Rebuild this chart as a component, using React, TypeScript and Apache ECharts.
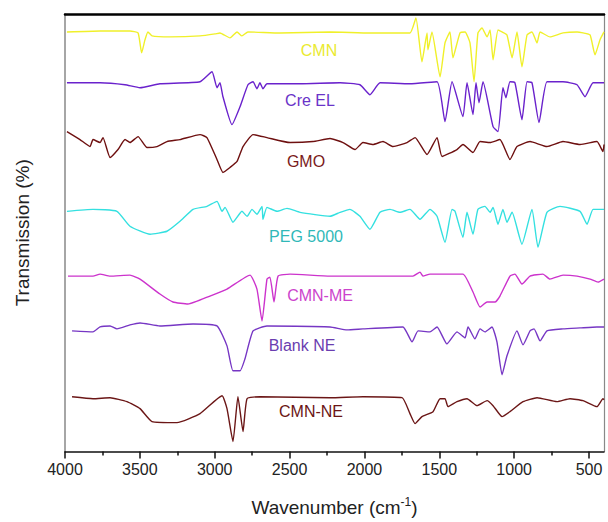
import React, { useEffect, useRef } from "react";
import * as echarts from "echarts";

// Wavenumber (cm-1), transmission offset (arb. units)
const cmn: [number, number][] = [
  [3987, 421], [3766, 422], [3566, 422], [3512, 420], [3488, 400], [3466, 413], [3446, 421], [3419, 417],
  [3299, 416], [3098, 417], [2998, 419], [2965, 420], [2898, 415], [2851, 421], [2818, 417], [2778, 421],
  [2564, 420], [2230, 421], [1963, 420], [1696, 420], [1656, 435], [1616, 391], [1582, 420], [1576, 403],
  [1549, 421], [1495, 376], [1462, 410], [1429, 421], [1409, 395], [1362, 420], [1328, 421], [1295, 410],
  [1268, 371], [1242, 420], [1215, 425], [1181, 416], [1161, 423], [1141, 393], [1108, 423], [1081, 421],
  [1048, 418], [1014, 395], [981, 421], [948, 386], [914, 418], [881, 421], [847, 410], [827, 421],
  [761, 416], [674, 420], [580, 421], [540, 420], [493, 418], [460, 398], [427, 413], [400, 421],
];

const creEL: [number, number][] = [
  [3987, 370], [3766, 370], [3599, 368], [3499, 365], [3366, 369], [3098, 371], [3018, 381], [2985, 365],
  [2965, 370], [2945, 356], [2885, 328], [2831, 346], [2778, 368], [2744, 371], [2718, 364], [2698, 370],
  [2678, 364], [2651, 369], [2430, 369], [2163, 370], [2030, 368], [1963, 358], [1896, 370], [1696, 369],
  [1515, 371], [1462, 331], [1415, 371], [1342, 336], [1315, 370], [1275, 338], [1255, 370], [1235, 350],
  [1208, 371], [1141, 326], [1108, 321], [1075, 365], [1055, 355], [1028, 371], [995, 370], [948, 333],
  [914, 371], [881, 370], [834, 330], [781, 371], [674, 371], [580, 368], [527, 356], [473, 370], [400, 370],
];

const gmo: [number, number][] = [
  [3987, 321], [3900, 313], [3833, 306], [3813, 313], [3766, 310], [3746, 315], [3699, 295], [3646, 303],
  [3599, 313], [3566, 310], [3512, 316], [3452, 305], [3386, 306], [3319, 311], [3232, 313], [3098, 318],
  [3052, 315], [2985, 293], [2945, 280], [2898, 285], [2851, 291], [2811, 306], [2744, 318], [2651, 315],
  [2497, 310], [2344, 311], [2230, 314], [2143, 310], [2063, 303], [2010, 310], [1943, 308], [1876, 311],
  [1809, 306], [1716, 310], [1662, 315], [1582, 298], [1515, 315], [1482, 296], [1382, 303], [1342, 308],
  [1275, 300], [1228, 311], [1161, 310], [1095, 313], [1028, 293], [981, 306], [894, 311], [781, 306],
  [674, 311], [560, 308], [447, 311], [407, 301], [400, 308],
];

const peg5000: [number, number][] = [
  [3987, 241], [3813, 243], [3653, 241], [3566, 226], [3432, 218], [3319, 221], [3232, 231], [3145, 243],
  [3052, 246], [2985, 251], [2951, 241], [2931, 245], [2878, 230], [2818, 241], [2784, 236], [2751, 243],
  [2718, 238], [2684, 246], [2678, 233], [2651, 245], [2584, 241], [2517, 244], [2430, 240], [2230, 236],
  [2163, 240], [2097, 243], [2030, 236], [1963, 223], [1896, 240], [1829, 243], [1763, 240], [1696, 243],
  [1629, 233], [1562, 243], [1515, 236], [1462, 210], [1415, 243], [1395, 241], [1342, 215], [1315, 240],
  [1275, 218], [1242, 243], [1195, 246], [1161, 240], [1141, 245], [1108, 228], [1075, 243], [1048, 230],
  [1014, 240], [948, 208], [881, 243], [841, 205], [781, 240], [694, 246], [560, 241], [513, 228],
  [473, 243], [400, 243],
];

const cmnME: [number, number][] = [
  [3980, 176], [3813, 176], [3766, 178], [3699, 176], [3566, 177], [3499, 173], [3366, 158], [3279, 150],
  [3178, 148], [3032, 156], [2918, 163], [2764, 177], [2718, 163], [2684, 131], [2651, 173], [2631, 175],
  [2604, 150], [2577, 176], [2497, 178], [2230, 176], [1676, 176], [1629, 180], [1609, 176], [1562, 178],
  [1342, 178], [1275, 160], [1228, 145], [1181, 150], [1128, 150], [1095, 156], [1028, 176], [995, 178],
  [948, 168], [894, 176], [808, 178], [761, 173], [674, 177], [580, 176], [493, 173], [440, 170], [400, 173],
];

const blankNE: [number, number][] = [
  [3953, 121], [3813, 120], [3766, 125], [3699, 126], [3653, 123], [3566, 127], [3499, 129], [3366, 126],
  [3145, 128], [2985, 126], [2918, 106], [2878, 81], [2831, 81], [2798, 93], [2744, 121], [2651, 126],
  [2230, 125], [2116, 122], [2010, 123], [1743, 125], [1682, 110], [1642, 121], [1562, 120], [1515, 125],
  [1449, 108], [1382, 120], [1328, 114], [1308, 125], [1262, 113], [1228, 123], [1195, 120], [1148, 125],
  [1115, 110], [1081, 77], [1048, 96], [981, 121], [941, 107], [894, 121], [867, 123], [827, 111],
  [781, 121], [674, 123], [560, 124], [447, 125], [400, 125],
];

const cmnNE: [number, number][] = [
  [3953, 55], [3813, 53], [3699, 54], [3586, 50], [3499, 43], [3419, 30], [3252, 29], [3098, 38],
  [2951, 56], [2918, 43], [2878, 10], [2845, 55], [2811, 20], [2784, 53], [2698, 55], [2230, 54],
  [2010, 55], [1749, 54], [1696, 38], [1662, 28], [1616, 35], [1542, 40], [1495, 53], [1462, 53],
  [1442, 45], [1382, 50], [1315, 53], [1248, 46], [1181, 51], [1141, 46], [1081, 35], [1028, 40],
  [941, 50], [847, 54], [714, 50], [627, 53], [540, 51], [447, 45], [407, 53], [400, 52],
];

const seriesNames = ["CMN", "Cre EL", "GMO", "PEG 5000", "CMN-ME", "Blank NE", "CMN-NE"];
const seriesData = [cmn, creEL, gmo, peg5000, cmnME, blankNE, cmnNE];
const lineColors = ["#f0f02a", "#6a22cc", "#6e1010", "#34e0e0", "#cc33cc", "#7636c4", "#6b1616"];
const labelColors = ["#eaea30", "#6a33c8", "#7a1a1a", "#30b8b8", "#cc44cc", "#6a3db0", "#6b1515"];
// label centres, in page pixels
const labelPos: [number, number][] = [
  [319, 50], [310, 100], [306, 161], [306, 236], [320, 295], [302, 345], [311, 411],
];

const majorTicks = [4000, 3500, 3000, 2500, 2000, 1500, 1000, 500];
const minorTicks = [3750, 3250, 2750, 2250, 1750, 1250, 750];

const FONT = "Liberation Sans, Arial, sans-serif";

export default function App() {
  const ref = useRef<HTMLDivElement>(null);
  useEffect(() => {
    if (!ref.current) return;
    const chart = echarts.init(ref.current, null, { renderer: "svg" });
    const xBase = { type: "value" as const, min: 400, max: 4000, inverse: true, splitLine: { show: false } };
    chart.setOption({
      animation: false,
      backgroundColor: "#ffffff",
      grid: { left: 65, right: 4, top: 14, bottom: 69 },
      xAxis: [
        {
          ...xBase,
          position: "bottom",
          name: "Wavenumber (cm{sup|-1})",
          nameLocation: "middle",
          nameGap: 44,
          nameTextStyle: {
            fontFamily: FONT, fontSize: 19, color: "#222",
            rich: { sup: { fontFamily: FONT, fontSize: 12, color: "#222", verticalAlign: "top", padding: [0, 0, 12, 0] } },
          },
          axisLine: { show: true, onZero: false, lineStyle: { color: "#111", width: 1.5 } },
          axisTick: { show: true, customValues: majorTicks, length: 7, lineStyle: { color: "#111", width: 1.5 } },
          axisLabel: {
            show: true, customValues: majorTicks, fontFamily: FONT, fontSize: 16, color: "#222", margin: 10,
            formatter: (v: number) => String(v),
          },
        },
        {
          ...xBase,
          position: "top",
          axisLine: { show: true, onZero: false, lineStyle: { color: "#000", width: 2.5 } },
          axisTick: { show: false },
          axisLabel: { show: false },
        },
        {
          ...xBase,
          position: "bottom",
          axisLine: { show: false },
          axisTick: { show: true, customValues: minorTicks, length: 4, lineStyle: { color: "#111", width: 1.5 } },
          axisLabel: { show: false },
        },
      ],
      yAxis: [
        {
          type: "value", min: 0, max: 439, position: "left",
          name: "Transmission (%)", nameLocation: "middle", nameGap: 33,
          nameTextStyle: { fontFamily: FONT, fontSize: 19, color: "#222" },
          axisLine: { show: true, onZero: false, lineStyle: { color: "#888", width: 1.5 } },
          axisTick: { show: false }, axisLabel: { show: false }, splitLine: { show: false },
        },
        {
          type: "value", min: 0, max: 439, position: "right",
          axisLine: { show: true, onZero: false, lineStyle: { color: "#888", width: 1.2 } },
          axisTick: { show: false }, axisLabel: { show: false }, splitLine: { show: false },
        },
      ],
      series: seriesData.map((d, i) => ({
        type: "line",
        name: seriesNames[i],
        data: d,
        showSymbol: false,
        smooth: 0.15,
        lineStyle: { color: lineColors[i], width: 1.4 },
        xAxisIndex: 0,
        yAxisIndex: 0,
        z: 2,
      })),
      graphic: seriesNames.map((n, i) => ({
        type: "text",
        x: labelPos[i][0],
        y: labelPos[i][1],
        style: {
          text: n, fill: labelColors[i], font: `16px ${FONT}`,
          textAlign: "center", textVerticalAlign: "middle",
        },
      })),
    });
    return () => chart.dispose();
  }, []);
  return <div ref={ref} style={{ position: "absolute", left: 0, top: 0, width: 608, height: 522 }} />;
}
